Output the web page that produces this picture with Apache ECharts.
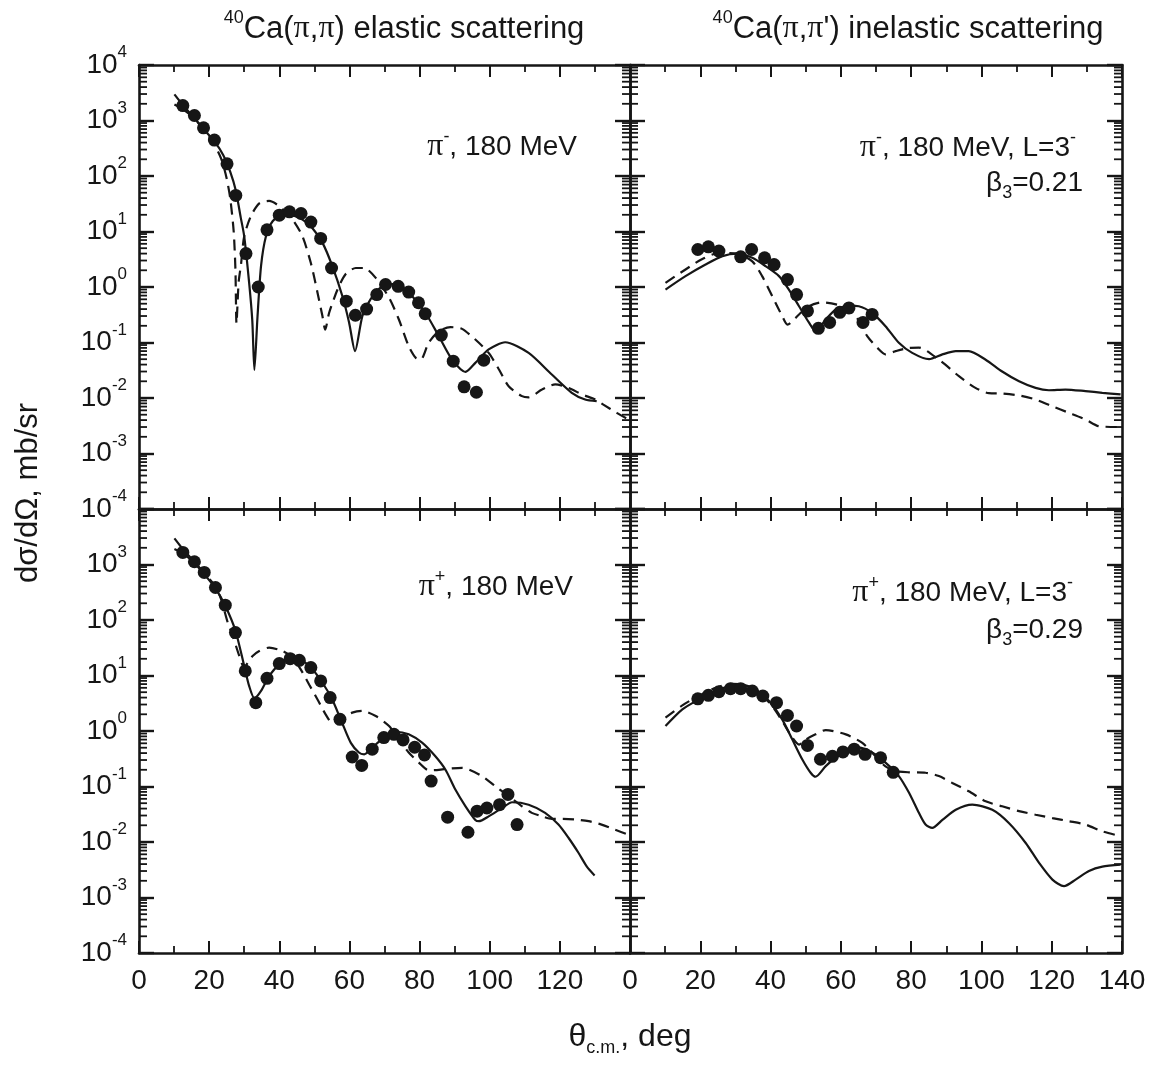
<!DOCTYPE html>
<html><head><meta charset="utf-8">
<script src="https://cdn.jsdelivr.net/npm/echarts@6/dist/echarts.min.js"></script>
<style>html,body{margin:0;padding:0;background:#fff}#c{width:1162px;height:1066px}</style>
</head><body><div id="c"></div>
<script>
// ---------- tick definitions ----------
const xTickValues = [0, 20, 40, 60, 80, 100, 120, 140];
const decadeExponents = [-4, -3, -2, -1, 0, 1, 2, 3];
const logMinorMultipliers = [2, 3, 4, 5, 6, 7, 8, 9];

// ---------- data: pi- elastic (top-left) ----------
const elasticMinusPoints = [[12.5,1860],[15.8,1230],[18.4,738],[21.5,443],[25.1,166],[27.6,44.6],[30.5,4.0],[34.0,1.0],[36.5,10.7],[40.0,19.7],[42.9,22.6],[46.2,21.1],[49.0,14.8],[51.8,7.5],[54.9,2.2],[59.1,0.556],[61.7,0.31],[64.9,0.40],[67.8,0.73],[70.3,1.11],[73.9,1.03],[76.9,0.81],[79.7,0.52],[81.6,0.33],[86.2,0.136],[89.6,0.046],[92.7,0.0159],[96.2,0.0127],[98.3,0.048]];
const elasticMinusSolid = [[10.1,1950],[12.5,1600],[15.8,1080],[18.4,700],[21.5,420],[24,240],[26,120],[27.6,55],[29,18],[30,8.2],[31.4,1.2],[32.3,0.25],[32.9,0.032],[33.8,0.3],[34.8,2.4],[36.2,8.2],[38.1,15.3],[40.9,19.5],[43,20],[46.6,16.4],[49.4,11.6],[52.3,6.3],[55.1,2.4],[58.0,0.68],[59.9,0.23],[61.6,0.07],[63.7,0.3],[66.0,0.6],[69.4,1.04],[72.2,1.13],[74.6,1.04],[77.9,0.68],[81.7,0.34],[85.5,0.13],[89.3,0.049],[93.1,0.0295],[95.9,0.043],[99.7,0.075],[104.4,0.101],[111.1,0.065],[117.7,0.0265],[123.4,0.0124],[127.2,0.0094],[130.5,0.0088]];
const elasticMinusDashed = [[10.1,2950],[12.5,1900],[15,1250],[18,750],[21,420],[23.5,200],[25,90],[26,40],[27,10],[27.5,2],[27.8,0.22],[28.4,1.2],[29.1,2.6],[30.0,8.2],[31.9,18.9],[34.3,32],[37.1,35.5],[40.0,28.6],[43.8,16.4],[46.6,8.2],[49.0,2.7],[50.9,0.79],[52.3,0.3],[53.1,0.17],[54.2,0.34],[56.6,0.9],[58.9,1.7],[61.8,2.2],[64.2,2.2],[67.5,1.46],[71.3,0.64],[74.1,0.26],[76.9,0.086],[78.9,0.053],[80.3,0.049],[82.6,0.099],[85.5,0.16],[88.8,0.189],[92.1,0.176],[95.9,0.113],[99.7,0.065],[102.6,0.033],[105.4,0.0163],[109.2,0.0108],[111.1,0.0103],[114.9,0.0142],[118.7,0.0176],[122.5,0.0152],[126.3,0.0116],[130.1,0.0094],[132.4,0.0076],[136.2,0.0054],[139.5,0.0041]];

// ---------- data: pi- inelastic (top-right) ----------
const inelasticMinusPoints = [[19.3,4.74],[22.3,5.3],[25.3,4.43],[31.5,3.5],[34.6,4.74],[38.3,3.36],[41.0,2.54],[44.8,1.36],[47.4,0.73],[50.5,0.37],[53.6,0.18],[56.8,0.23],[59.7,0.35],[62.3,0.42],[66.3,0.23],[68.9,0.32]];
const inelasticMinusSolid = [[10.1,0.9],[15.8,1.57],[21.5,2.54],[26.3,3.6],[30.5,4.0],[34.8,3.36],[38.6,2.37],[42.4,1.57],[45.2,0.9],[48.1,0.45],[50.9,0.23],[52.8,0.16],[55.7,0.26],[58.5,0.39],[62.3,0.46],[65.1,0.45],[68.9,0.34],[72.7,0.197],[76.5,0.099],[80.3,0.065],[85.1,0.05],[88.9,0.061],[92.7,0.07],[96.4,0.07],[101.2,0.049],[105.9,0.030],[110.7,0.020],[115.4,0.0152],[119.2,0.0138],[123.9,0.0142],[129.6,0.0133],[134.4,0.0124],[139.6,0.0116]];
const inelasticMinusDashed = [[10.1,1.19],[15.8,2.07],[20.6,3.2],[25.3,4.1],[30.5,4.0],[34.8,2.9],[37.6,1.57],[40.5,0.68],[43.3,0.3],[44.8,0.21],[48.1,0.32],[50.9,0.45],[54.7,0.53],[60.4,0.45],[64.2,0.3],[67.5,0.13],[70.4,0.08],[72.7,0.061],[75.6,0.07],[79.4,0.08],[82.2,0.081],[87.9,0.049],[93.6,0.0247],[98.3,0.0152],[102.1,0.0122],[105.9,0.012],[110.7,0.0111],[115.4,0.0094],[120.1,0.0071],[124.9,0.0054],[129.6,0.0041],[133.4,0.0031],[139.6,0.003]];

// ---------- data: pi+ elastic (bottom-left) ----------
const elasticPlusPoints = [[12.5,1650],[15.8,1120],[18.6,720],[21.8,385],[24.6,185],[27.5,59.4],[30.3,12.1],[33.3,3.24],[36.5,8.9],[40.0,16.4],[43.1,20.1],[45.7,18.8],[49.0,13.9],[51.8,8.0],[54.5,4.0],[57.3,1.62],[60.8,0.34],[63.5,0.24],[66.5,0.47],[69.8,0.76],[72.7,0.87],[75.3,0.69],[78.6,0.51],[81.4,0.37],[83.3,0.125],[88.0,0.028],[93.8,0.015],[96.4,0.036],[99.2,0.041],[102.8,0.047],[105.2,0.072],[107.8,0.0206]];
const elasticPlusSolid = [[10.1,1900],[12.5,1585],[15.8,1060],[18.6,671],[21.8,370],[24.6,180],[27.5,64],[30.0,14.9],[31.4,6.5],[32.9,3.9],[34.8,5.3],[37.1,9.8],[40.0,15.9],[42.8,20.1],[45.7,19.6],[49.0,13.9],[52.3,7.4],[55.1,3.7],[57.9,1.41],[60.4,0.61],[62.7,0.41],[64.2,0.38],[66.5,0.5],[69.4,0.72],[73.2,0.97],[76.9,0.87],[80.8,0.61],[84.5,0.35],[87.4,0.2],[90.2,0.088],[93.1,0.044],[95.9,0.025],[96.9,0.0237],[99.7,0.029],[103.5,0.041],[106.4,0.052],[111.1,0.047],[115.8,0.0335],[119.6,0.0206],[122.5,0.0118],[125.3,0.0064],[127.7,0.0036],[129.9,0.0025]];
const elasticPlusDashed = [[10.1,2950],[12.5,1900],[15.8,1120],[18.6,700],[21.8,400],[23.4,237],[25.3,90],[26.7,52],[28.6,22.5],[30.0,13.9],[31.0,17],[32.4,22.5],[34.3,27.7],[37.1,31.8],[40.9,27.7],[43.8,21],[46.1,12.9],[48.5,6.9],[50.9,3.7],[53.2,2.0],[55.1,1.41],[57.9,1.74],[60.8,2.14],[63.7,2.3],[67.5,1.86],[71.3,1.23],[74.1,0.7],[76.9,0.41],[79.8,0.27],[82.6,0.197],[85.5,0.2],[88.3,0.21],[92.1,0.217],[97.8,0.154],[101.6,0.101],[105.4,0.067],[109.2,0.044],[112.0,0.0335],[114.9,0.029],[117.7,0.026],[120.6,0.026],[124.4,0.0255],[128.2,0.0237],[131.9,0.0206],[135.7,0.0167],[139.5,0.0136]];

// ---------- data: pi+ inelastic (bottom-right) ----------
const inelasticPlusPoints = [[19.3,3.8],[22.3,4.4],[25.3,5.1],[28.6,5.8],[31.5,5.8],[34.8,5.26],[37.8,4.27],[41.7,3.24],[44.8,1.91],[47.4,1.23],[50.5,0.55],[54.2,0.31],[57.6,0.35],[60.6,0.42],[63.8,0.47],[66.9,0.38],[71.3,0.33],[74.9,0.18]];
const inelasticPlusSolid = [[10.1,1.23],[14.9,2.45],[19.6,3.7],[24.4,5.3],[29.1,6.65],[32.0,6.8],[35.8,5.6],[39.5,3.5],[43.3,1.62],[46.2,0.7],[49.0,0.31],[51.4,0.177],[52.8,0.15],[55.7,0.233],[58.5,0.33],[62.3,0.45],[65.1,0.5],[68.9,0.41],[72.7,0.27],[76.5,0.154],[79.4,0.077],[82.2,0.0335],[84.1,0.0206],[86.0,0.018],[88.9,0.025],[92.7,0.038],[97.4,0.047],[103.1,0.038],[107.8,0.022],[112.6,0.0096],[116.4,0.0042],[120.2,0.0021],[123.5,0.0016],[126.8,0.0021],[130.6,0.003],[134.4,0.0036],[139.6,0.0039]];
const inelasticPlusDashed = [[10.1,1.74],[14.9,2.9],[19.6,4.3],[24.4,6.0],[29.1,7.1],[32.9,6.65],[36.7,4.9],[40.5,2.8],[43.3,1.51],[46.2,0.76],[48.1,0.57],[50.0,0.7],[52.8,0.87],[55.7,1.04],[61.4,0.87],[66.1,0.61],[69.9,0.35],[72.7,0.23],[75.6,0.19],[79.4,0.18],[84.1,0.177],[87.9,0.154],[91.7,0.116],[96.4,0.082],[101.2,0.054],[105.9,0.044],[110.7,0.036],[115.4,0.031],[120.2,0.027],[124.9,0.0237],[129.6,0.0206],[134.4,0.0156],[139.6,0.0127]];

// ---------- styling ----------
const FONT = '"Liberation Sans", Arial, Helvetica, sans-serif';
const SERIF = '"Liberation Serif", "Times New Roman", serif';
const INK = '#161616';

const minorTickValues = [];
decadeExponents.forEach(e => logMinorMultipliers.forEach(m => minorTickValues.push(m * Math.pow(10, e))));

const grids = [
  {left: 139, top: 65, width: 491, height: 444},
  {left: 630, top: 65, width: 492, height: 444},
  {left: 139, top: 509, width: 491, height: 444},
  {left: 630, top: 509, width: 492, height: 444}
];

const xAxes = [], yAxes = [], series = [];
grids.forEach((g, i) => {
  const bottomRow = i >= 2, leftCol = i % 2 === 0;
  const xc = {
    type: 'value', gridIndex: i, min: xTickValues[0], max: xTickValues[xTickValues.length - 1], interval: 20,
    axisLine: {show: true, onZero: false, lineStyle: {color: INK, width: 2.6}},
    axisTick: {show: true, inside: true, length: 12, lineStyle: {color: INK, width: 2}},
    minorTick: {show: true, splitNumber: 2, length: 7, lineStyle: {color: INK, width: 1.8}},
    splitLine: {show: false}, minorSplitLine: {show: false}
  };
  xAxes.push(Object.assign({}, xc, {position: 'bottom', axisLabel: {
    show: bottomRow, margin: 14, fontSize: 28, fontFamily: FONT, color: INK,
    showMaxLabel: true, showMinLabel: true,
    formatter: v => (leftCol && v === 140) ? '' : String(v)}}));
  xAxes.push(Object.assign({}, xc, {position: 'top', axisLabel: {show: false}}));
  const yc = {
    type: 'log', logBase: 10, gridIndex: i, min: 1e-4, max: 1e4,
    axisLine: {show: true, onZero: false, lineStyle: {color: INK, width: 2.6}},
    axisTick: {show: true, inside: true, length: 15, lineStyle: {color: INK, width: 2.4}},
    splitLine: {show: false}
  };
  yAxes.push(Object.assign({}, yc, {position: 'left', axisLabel: {
    show: leftCol, margin: 12, color: INK,
    formatter: v => {
      const e = Math.round(Math.log10(v));
      if (bottomRow && e === 4) return '';
      return '{b|10}{s|' + (e < 0 ? '-' + (-e) : e) + '}';
    },
    rich: {
      b: {fontSize: 28, fontFamily: FONT, color: INK, lineHeight: 42, verticalAlign: 'middle'},
      s: {fontSize: 17, fontFamily: FONT, color: INK, lineHeight: 17, verticalAlign: 'top'}
    }}}));
  yAxes.push(Object.assign({}, yc, {position: 'right', axisLabel: {show: false}}));
});

function minorTickItem(params, api) {
  const y = api.coord([0, api.value(1)])[1];
  const cs = params.coordSys;
  const L = 8;
  const st = {stroke: INK, lineWidth: 1.8};
  return {type: 'group', children: [
    {type: 'line', shape: {x1: cs.x, y1: y, x2: cs.x + L, y2: y}, style: st},
    {type: 'line', shape: {x1: cs.x + cs.width - L, y1: y, x2: cs.x + cs.width, y2: y}, style: st}
  ]};
}

function addPanel(i, pts, solid, dashed) {
  const ax = {xAxisIndex: 2 * i, yAxisIndex: 2 * i};
  series.push(Object.assign({type: 'line', data: solid, symbol: 'none', smooth: 0.25,
    lineStyle: {color: INK, width: 2.2}, z: 3}, ax));
  series.push(Object.assign({type: 'line', data: dashed, symbol: 'none', smooth: 0.25,
    lineStyle: {color: INK, width: 2.2, type: [11, 7]}, z: 3}, ax));
  series.push(Object.assign({type: 'scatter', data: pts, symbol: 'circle', symbolSize: 13,
    itemStyle: {color: INK, opacity: 1}, z: 4}, ax));
  series.push(Object.assign({type: 'custom', data: minorTickValues.map(v => [0, v]),
    renderItem: minorTickItem, clip: false, silent: true, z: 5}, ax));
}
addPanel(0, elasticMinusPoints, elasticMinusSolid, elasticMinusDashed);
addPanel(1, inelasticMinusPoints, inelasticMinusSolid, inelasticMinusDashed);
addPanel(2, elasticPlusPoints, elasticPlusSolid, elasticPlusDashed);
addPanel(3, inelasticPlusPoints, inelasticPlusSolid, inelasticPlusDashed);

const titleRich = {
  s: {fontSize: 18, fontFamily: FONT, fill: INK, lineHeight: 18, verticalAlign: 'top'},
  t: {fontSize: 31, fontFamily: FONT, fill: INK, lineHeight: 40, verticalAlign: 'middle'},
  p: {fontSize: 32, fontFamily: SERIF, fill: INK, lineHeight: 40, verticalAlign: 'middle'}
};
const annRich = {
  t: {fontSize: 28, fontFamily: FONT, fill: INK, lineHeight: 38, verticalAlign: 'middle'},
  p: {fontSize: 32, fontFamily: SERIF, fill: INK, lineHeight: 38, verticalAlign: 'middle'},
  s: {fontSize: 18, fontFamily: FONT, fill: INK, lineHeight: 18, verticalAlign: 'top'},
  sub: {fontSize: 18, fontFamily: FONT, fill: INK, lineHeight: 18, verticalAlign: 'bottom'}
};
function txt(x, y, text, rich, align, rotation) {
  return {type: 'text', x: x, y: y, rotation: rotation || 0, silent: true,
    style: {text: text, rich: rich, align: align, verticalAlign: 'middle', fill: INK}};
}

const graphic = [
  txt(404, 29, '{s|40}{t|Ca(}{p|π}{t|,}{p|π}{t|) elastic scattering}', titleRich, 'center'),
  txt(908, 29, '{s|40}{t|Ca(}{p|π}{t|,}{p|π}{t|\') inelastic scattering}', titleRich, 'center'),
  txt(577, 147, '{p|π}{s|-}{t|, 180 MeV}', annRich, 'right'),
  txt(1076, 148, '{p|π}{s|-}{t|, 180 MeV, L=3}{s|-}', annRich, 'right'),
  txt(1083, 183, '{t|β}{sub|3}{t|=0.21}', annRich, 'right'),
  txt(573, 587, '{p|π}{s|+}{t|, 180 MeV}', annRich, 'right'),
  txt(1073, 593, '{p|π}{s|+}{t|, 180 MeV, L=3}{s|-}', annRich, 'right'),
  txt(1083, 630, '{t|β}{sub|3}{t|=0.29}', annRich, 'right'),
  txt(28, 493, '{t|dσ/dΩ, mb/sr}', {t: {fontSize: 31, fontFamily: FONT, fill: INK}}, 'center', Math.PI / 2),
  txt(630, 1037, '{t|θ}{sub|c.m.}{t|, deg}', {
    t: {fontSize: 32, fontFamily: FONT, fill: INK, lineHeight: 40, verticalAlign: 'middle'},
    sub: {fontSize: 18, fontFamily: FONT, fill: INK, lineHeight: 18, verticalAlign: 'bottom'}}, 'center')
];

const chart = echarts.init(document.getElementById('c'), null, {renderer: 'canvas'});
chart.setOption({
  backgroundColor: '#ffffff',
  animation: false,
  grid: grids,
  xAxis: xAxes,
  yAxis: yAxes,
  series: series,
  graphic: graphic
});
</script>
</body></html>
